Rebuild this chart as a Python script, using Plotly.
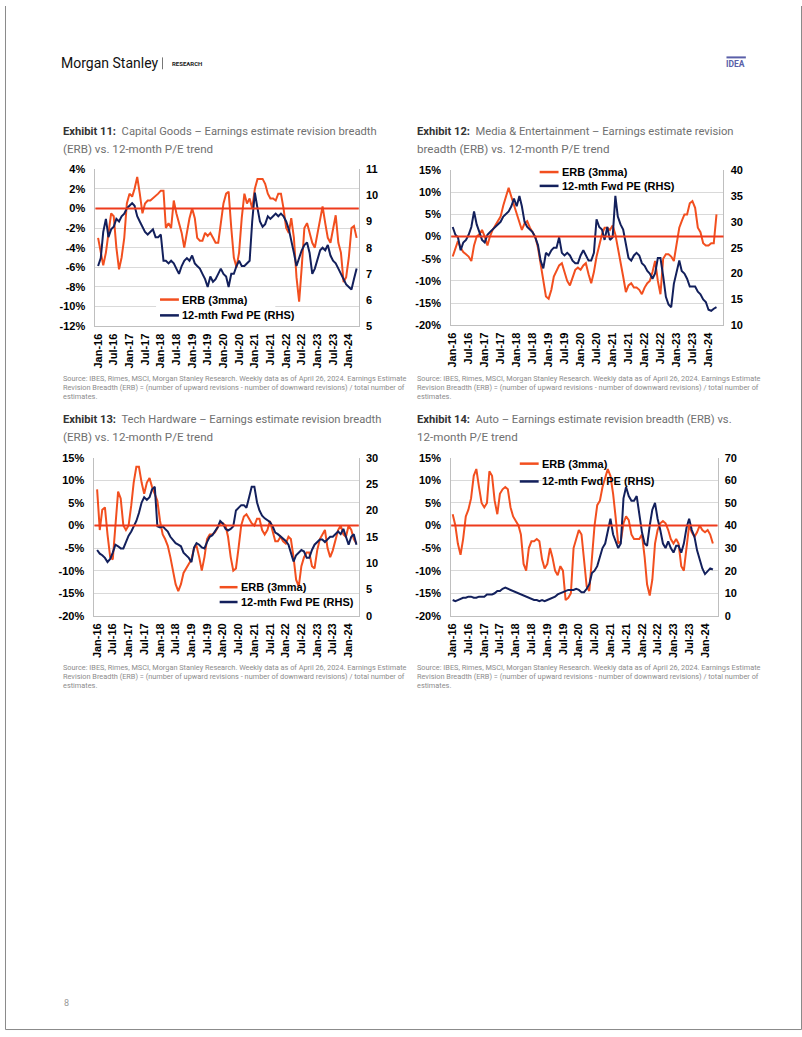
import pandas as pd
import plotly.graph_objects as go

# ---------------- data (monthly readings, Jan-16 .. Apr-24) ----------------
start_month = "2016-01-01"
n_months = 100

erb_capgoods = [-3.0, -4.5, -5.8, -4.5, -2.5, -0.5, -0.8, -4.0, -6.2, -5.0,
                -3.0, 0.5, 1.5, 1.2, 2.0, 3.2, 1.5, -0.5, 0.5, 0.8,
                0.8, 1.0, 1.3, 1.5, 1.8, 1.8, -2.0, -1.5, -2.0, 0.8,
                -0.5, -1.5, -2.5, -4.0, -2.5, -1.0, 0.0, -1.0, -3.0, -3.3,
                -3.3, -2.5, -2.8, -2.5, -3.0, -3.5, -3.5, -1.5, 0.5, 1.5,
                1.7, -2.0, -5.0, -6.0, -4.5, -1.0, 1.5, 0.5, 1.0, 0.0,
                2.0, 3.0, 3.0, 3.0, 2.5, 1.5, 1.0, 1.0, 0.8, 1.5,
                1.5, 0.0, -2.0, -2.5, -1.0, -3.0, -7.0, -9.5, -6.0, -2.0,
                -1.5, -2.5, -3.5, -4.0, -2.5, -1.0, 0.2, -1.5, -3.0, -3.5,
                -2.0, -0.7, -3.5, -4.5, -7.5, -7.0, -5.0, -2.0, -1.8, -3.0]
pe_capgoods = [7.3, 7.6, 8.6, 9.1, 8.4, 8.7, 8.8, 9.1, 9.0, 9.2,
               9.3, 9.5, 9.6, 9.7, 9.6, 9.2, 9.0, 8.8, 8.6, 8.5,
               8.6, 8.7, 8.4, 8.4, 8.5, 7.5, 7.5, 7.4, 7.5, 7.4,
               7.2, 7.0, 7.3, 7.5, 7.6, 7.5, 7.7, 7.4, 7.3, 7.2,
               7.0, 6.8, 6.5, 6.9, 6.7, 6.8, 7.0, 7.2, 7.0, 6.9,
               6.5, 7.0, 7.0, 7.3, 7.5, 7.3, 7.3, 7.4, 7.5, 9.0,
               10.1, 9.5, 9.0, 8.8, 8.9, 9.2, 9.1, 9.2, 9.3, 9.2,
               9.3, 9.2, 9.0, 8.7, 8.3, 7.8, 7.3, 7.6, 7.9, 8.1,
               8.2, 7.8, 7.0, 7.2, 7.6, 7.9, 8.0, 7.9, 8.1, 7.7,
               7.5, 7.4, 7.2, 7.0, 6.8, 6.6, 6.5, 6.4, 6.8, 7.2]

erb_media = [-4.5, -2.5, -1.0, -2.5, -3.5, -4.0, -4.5, -5.5, -2.0, 0.0,
             0.5, 1.5, 0.0, -2.0, 0.0, 1.5, 2.5, 3.5, 4.5, 7.0,
             9.0, 11.0, 9.0, 7.0, 5.0, 3.0, 1.5, 3.0, 3.5, 2.0,
             1.0, 0.0, -2.5, -6.0, -10.0, -13.5, -14.0, -12.0, -9.0, -7.5,
             -6.5, -6.0, -8.0, -10.0, -11.0, -9.0, -7.5, -7.0, -7.5, -6.5,
             -6.0, -8.5, -10.5, -8.0, -4.5, -2.0, 0.5, 2.0, 2.0, 1.5,
             2.5, 0.5, -2.5, -5.0, -9.0, -12.5, -11.0, -10.5, -11.5, -11.5,
             -12.0, -13.0, -11.5, -10.5, -10.0, -8.0, -5.5, -10.0, -13.0, -5.0,
             -4.0, -4.0, -4.5, -5.5, -2.0, 2.0, 3.5, 5.0, 5.0, 7.5,
             8.0, 6.5, 2.0, 1.0, -1.5, -2.0, -2.0, -1.5, -1.5, 5.0]
pe_media = [29, 27.5, 27, 24.5, 26, 26.5, 27.5, 29, 32, 29.5,
            28, 26.5, 26, 27.5, 28, 28.5, 29, 29.5, 30, 31,
            31.5, 32, 33, 34.5, 33, 35, 33, 30, 29, 28.5,
            28, 27, 25.5, 22.5, 21, 24, 23.5, 24.5, 25, 25,
            27, 24, 23.5, 24, 23.5, 22.5, 22, 22, 23.5, 24.5,
            23.5, 22.5, 22.5, 24, 30.5, 29, 28.5, 26.5, 29, 26.5,
            27, 35, 31, 29.5, 28.5, 26, 23, 22.5, 23.5, 24,
            23.5, 22, 21.5, 20.5, 20, 19, 20, 23, 23, 19.5,
            15.5, 14, 13.5, 18, 20.5, 22.5, 20.5, 20, 19, 17.5,
            17.5, 17.5, 16.5, 16, 15, 14.5, 13, 12.8, 13.2, 13.5]

erb_tech = [8.0, -1.0, 3.5, 4.0, -2.0, -7.0, -7.5, 1.0, 7.5, 6.0,
            0.0, -1.0, 0.0, 4.5, 9.5, 13.0, 13.0, 9.5, 7.0, 9.5,
            10.5, 8.5, 7.0, 5.5, 1.0, -2.0, -3.0, -4.5, -7.0, -10.0,
            -13.0, -14.5, -13.0, -10.5, -9.5, -8.5, -7.5, -5.0, -4.5, -7.0,
            -10.0, -7.0, -3.0, -2.0, -2.0, -1.5, -0.5, 0.5, 0.5, 0.0,
            -2.5, -7.0, -10.0, -9.5, -5.0, 0.0, 2.0, 2.5, 1.5, 0.5,
            0.0, 1.5, 1.5, -1.0, -2.0, -1.0, 1.0, -1.5, -3.5, -3.5,
            -2.5, -3.5, -4.0, -2.5, -3.0, -7.0, -12.0, -13.5, -9.0, -7.0,
            -6.0, -6.0, -9.0, -9.5, -5.5, -3.0, -2.0, -1.0, -5.0, -7.0,
            -5.5, -3.0, -1.0, 0.0, -2.0, -2.5, 0.0, -1.0, -3.0, -4.0]
pe_tech = [12.5, 11.8, 11.5, 11.0, 10.2, 10.8, 12.0, 13.5, 13.2, 12.8,
           12.8, 14.0, 15.2, 16.0, 17.0, 18.0, 19.5, 21.5, 22.5, 22.0,
           22.5, 24.0, 24.5, 17.0, 16.8, 17.0, 16.5, 16.0, 15.0, 14.3,
           13.8, 13.5, 13.2, 12.0, 11.5, 11.0, 10.2, 13.0, 13.8, 13.5,
           13.0, 12.8, 14.0, 15.0, 15.3, 16.0, 16.8, 18.0, 17.5, 16.5,
           16.2, 16.5, 17.0, 20.0, 20.5, 21.0, 21.0, 20.5, 22.5, 24.5,
           24.5, 21.5, 20.0, 19.0, 18.5, 18.2, 17.8, 17.0, 15.8, 15.5,
           15.0, 14.5, 14.2, 13.5, 12.0, 10.3, 11.5, 12.0, 12.5, 12.2,
           11.0, 11.0, 12.5, 13.5, 14.0, 14.5, 14.5, 14.0, 14.5, 15.0,
           15.0, 15.5, 16.0, 15.5, 16.5, 15.0, 13.5, 15.0, 15.5, 13.5]

erb_auto = [2.5, 0.0, -4.0, -6.5, -3.0, 2.0, 3.5, 6.0, 11.0, 12.5,
            8.5, 5.0, 4.0, 5.0, 12.0, 11.0, 5.5, 2.5, 7.0, 8.0,
            8.5, 8.0, 4.0, 2.0, 1.0, 0.0, -2.0, -8.5, -10.0, -5.0,
            -3.5, -3.5, -3.0, -3.5, -7.5, -9.5, -8.5, -5.0, -7.0, -10.0,
            -11.0, -9.0, -10.0, -16.5, -16.0, -15.0, -5.0, -3.0, -1.0, -2.0,
            -8.0, -13.5, -14.5, -8.0, 0.0, 4.5, 5.5, 8.5, 10.5, 12.5,
            11.0, 7.0, 2.0, -4.0, -3.5, 0.5, 2.0, 1.2, -2.0, -3.0,
            -3.0, -3.0, -2.0, -7.0, -13.0, -15.5, -12.0, -4.0, -1.0, 0.5,
            1.0, 0.5, -1.0, -3.0, -4.0, -3.0, -4.0, -9.0, -10.0, -5.0,
            0.0, -1.5, -2.5, -1.5, 0.0, -1.0, -1.5, -1.0, -2.0, -4.0]
pe_auto = [7.0, 6.5, 7.0, 7.5, 8.0, 8.0, 8.5, 8.5, 8.0, 8.0,
           8.5, 8.5, 8.5, 9.5, 9.5, 9.5, 10.0, 11.0, 11.0, 12.0,
           12.5, 12.0, 11.8, 11.0, 10.5, 10.0, 9.5, 9.0, 8.5, 8.0,
           7.5, 7.0, 7.0, 6.5, 7.0, 6.5, 7.0, 7.5, 8.0, 8.5,
           9.5, 10.0, 10.5, 11.0, 11.5, 11.5, 11.5, 12.0, 11.5, 10.5,
           10.5, 12.0, 14.0, 19.0, 20.0, 22.0, 26.0, 30.0, 32.0, 38.0,
           43.0, 36.0, 33.0, 30.0, 32.0, 52.0, 57.0, 53.0, 51.0, 51.0,
           53.0, 44.0, 37.0, 32.0, 31.0, 40.0, 47.0, 50.0, 43.0, 38.0,
           32.0, 30.0, 33.0, 30.0, 28.0, 31.0, 31.0, 28.0, 32.0, 39.0,
           43.0, 38.0, 35.0, 29.0, 25.0, 21.0, 18.5, 20.0, 21.0, 20.5]

x_tick_labels = ["Jan-16", "Jul-16", "Jan-17", "Jul-17", "Jan-18", "Jul-18",
                 "Jan-19", "Jul-19", "Jan-20", "Jul-20", "Jan-21", "Jul-21",
                 "Jan-22", "Jul-22", "Jan-23", "Jul-23", "Jan-24"]

left_ticks_capgoods = [-12, -10, -8, -6, -4, -2, 0, 2, 4]
right_ticks_capgoods = [5, 6, 7, 8, 9, 10, 11]
left_ticks_std = [-20, -15, -10, -5, 0, 5, 10, 15]
right_ticks_media = [10, 15, 20, 25, 30, 35, 40]
right_ticks_tech = [0, 5, 10, 15, 20, 25, 30]
right_ticks_auto = [0, 10, 20, 30, 40, 50, 60, 70]

titles = [
    ("Exhibit 11:", "Capital Goods \u2013 Earnings estimate revision breadth", "(ERB) vs. 12-month P/E trend"),
    ("Exhibit 12:", "Media & Entertainment \u2013 Earnings estimate revision", "breadth (ERB) vs. 12-month P/E trend"),
    ("Exhibit 13:", "Tech Hardware \u2013 Earnings estimate revision breadth", "(ERB) vs. 12-month P/E trend"),
    ("Exhibit 14:", "Auto \u2013 Earnings estimate revision breadth (ERB) vs.", "12-month P/E trend"),
]
source_lines = [
    "Source: IBES, Rimes, MSCI, Morgan Stanley Research. Weekly data as of April 26, 2024. Earnings Estimate",
    "Revision Breadth (ERB) = (number of upward revisions - number of downward revisions) / total number of",
    "estimates.",
]
erb_name = "ERB (3mma)"
pe_name = "12-mth Fwd PE (RHS)"

# ---------------- styling ----------------
W, H = 802, 1037
ORANGE = "#F24F1F"
NAVY = "#13205C"
ZERO = "#EE3B1C"
GRID = "#D9D9D9"
AXLINE = "#BFBFBF"
TICKFONT = dict(family="Liberation Sans, Arial, sans-serif", size=11, color="#000000", weight="bold")
TITLEFONT = "Roboto, sans-serif"


def px(x):
    return x / W


def py(y):
    return 1 - y / H


dates = pd.date_range(start_month, periods=n_months, freq="MS")
tick_dates = [pd.to_datetime(t, format="%b-%y") for t in x_tick_labels]

panels = [
    dict(box=(91, 356, 165, 324), xr=["2015-12-01", "2024-04-26"],
         lt=left_ticks_capgoods, rt=right_ticks_capgoods,
         erb=erb_capgoods, pe=pe_capgoods,
         leg=(156, 175, 297, 313), legbox=(152, 272, 289, 321),
         title_xy=(56, 127, 145), src_xy=(56, 377)),
    dict(box=(449, 723, 166, 323), xr=["2015-12-15", "2024-06-20"],
         lt=left_ticks_std, rt=right_ticks_media,
         erb=erb_media, pe=pe_media,
         leg=(538, 557, 168, 182), legbox=None,
         title_xy=(413, 127, 145), src_xy=(413, 377)),
    dict(box=(90, 356, 457, 617), xr=["2015-12-01", "2024-04-28"],
         lt=left_ticks_std, rt=right_ticks_tech,
         erb=erb_tech, pe=pe_tech,
         leg=(216, 234, 588, 603), legbox=None,
         title_xy=(56, 418, 436), src_xy=(56, 669)),
    dict(box=(449, 717, 457, 617), xr=["2015-12-15", "2024-05-25"],
         lt=left_ticks_std, rt=right_ticks_auto,
         erb=erb_auto, pe=pe_auto,
         leg=(518, 537, 463, 481), legbox=None,
         title_xy=(413, 418, 436), src_xy=(413, 669)),
]

fig = go.Figure()
layout = dict(width=W, height=H, margin=dict(l=0, r=0, t=0, b=0),
              paper_bgcolor="white", plot_bgcolor="white", showlegend=False)
shapes = []
annotations = []

for i, p in enumerate(panels, start=1):
    xa = "x" if i == 1 else f"x{i}"
    xkey = "xaxis" if i == 1 else f"xaxis{i}"
    ln = 2 * i - 1
    rn = 2 * i
    ly = "y" if ln == 1 else f"y{ln}"
    ry = f"y{rn}"
    lkey = "yaxis" if ln == 1 else f"yaxis{ln}"
    rkey = f"yaxis{rn}"
    x0, x1, y0, y1 = p["box"]

    layout[xkey] = dict(domain=[px(x0), px(x1)], anchor=ly, type="date", range=p["xr"],
                        tickmode="array", tickvals=tick_dates, ticktext=x_tick_labels,
                        tickangle=-90, tickfont=TICKFONT, showgrid=False,
                        showline=True, linecolor=AXLINE, linewidth=1, zeroline=False,
                        ticks="", ticklabelstandoff=2)
    layout[lkey] = dict(domain=[py(y1), py(y0)], anchor=xa, range=[p["lt"][0], p["lt"][-1]],
                        tickmode="array", tickvals=p["lt"], ticktext=[f"{v}%" for v in p["lt"]],
                        tickfont=TICKFONT, showgrid=True, gridcolor=GRID, gridwidth=1,
                        showline=True, linecolor=AXLINE, linewidth=1, zeroline=False,
                        ticks="", ticklabelstandoff=7)
    layout[rkey] = dict(overlaying=ly, side="right", anchor=xa, range=[p["rt"][0], p["rt"][-1]],
                        tickmode="array", tickvals=p["rt"], ticktext=[str(v) for v in p["rt"]],
                        tickfont=TICKFONT, showgrid=False,
                        showline=True, linecolor=AXLINE, linewidth=1, zeroline=False,
                        ticks="", ticklabelstandoff=4)

    fig.add_trace(go.Scatter(x=dates, y=p["erb"], mode="lines", name=erb_name,
                             line=dict(color=ORANGE, width=2), xaxis=xa, yaxis=ly))
    fig.add_trace(go.Scatter(x=dates, y=p["pe"], mode="lines", name=pe_name,
                             line=dict(color=NAVY, width=2), xaxis=xa, yaxis=ry))

    # zero line on the ERB axis
    shapes.append(dict(type="line", xref=f"{xa} domain", yref=ly, x0=0, x1=1, y0=0, y1=0,
                       line=dict(color=ZERO, width=2), layer="above"))

    # legend background box (hides gridlines under the legend)
    if p["legbox"] is not None:
        bx0, bx1, by0, by1 = p["legbox"]
        shapes.append(dict(type="rect", xref="paper", yref="paper",
                           x0=px(bx0), x1=px(bx1), y0=py(by1), y1=py(by0),
                           fillcolor="white", line=dict(width=0), layer="above"))

    # legend (custom, positioned like the original)
    lx0, lx1, lg0, lg1 = p["leg"]
    for yy, col, name in ((lg0, ORANGE, erb_name), (lg1, NAVY, pe_name)):
        shapes.append(dict(type="line", xref="paper", yref="paper",
                           x0=px(lx0), x1=px(lx1), y0=py(yy), y1=py(yy),
                           line=dict(color=col, width=2.5), layer="above"))
        annotations.append(dict(xref="paper", yref="paper", x=px(lx1 + 1), y=py(yy),
                                xanchor="left", yanchor="middle", showarrow=False,
                                text=name, font=TICKFONT))

    # title
    tx, ty1, ty2 = p["title_xy"]
    bold, rest, line2 = titles[i - 1]
    annotations.append(dict(xref="paper", yref="paper", x=px(tx), y=py(ty1),
                            xanchor="left", yanchor="middle", showarrow=False,
                            text=f"<b>{bold}</b>  <span style='color:#707070'>{rest}</span>",
                            font=dict(family=TITLEFONT, size=11.2, color="#333333")))
    annotations.append(dict(xref="paper", yref="paper", x=px(tx), y=py(ty2),
                            xanchor="left", yanchor="middle", showarrow=False,
                            text=line2,
                            font=dict(family=TITLEFONT, size=11.6, color="#707070")))
    # source
    sx, sy = p["src_xy"]
    for k, line in enumerate(source_lines):
        annotations.append(dict(xref="paper", yref="paper", x=px(sx), y=py(sy + 9 * k),
                                xanchor="left", yanchor="middle", showarrow=False,
                                text=line,
                                font=dict(family=TITLEFONT, size=7.35, color="#8C8C8C")))

# page header / footer
annotations.append(dict(xref="paper", yref="paper", x=px(54), y=py(58), xanchor="left",
                        yanchor="middle", showarrow=False, text="Morgan Stanley",
                        font=dict(family=TITLEFONT, size=14, color="#111111")))
annotations.append(dict(xref="paper", yref="paper", x=px(166), y=py(58), xanchor="left",
                        yanchor="middle", showarrow=False, text="RESEARCH",
                        font=dict(family=TITLEFONT, size=6, color="#222222", weight="bold")))
shapes.append(dict(type="line", xref="paper", yref="paper", x0=px(158.5), x1=px(158.5),
                   y0=py(52), y1=py(64), line=dict(color="#777777", width=1)))
annotations.append(dict(xref="paper", yref="paper", x=px(735.5), y=py(58.5), xanchor="center",
                        yanchor="middle", showarrow=False, text="IDEA",
                        font=dict(family=TITLEFONT, size=8.5, color="#5A5FA8", weight="bold")))
shapes.append(dict(type="line", xref="paper", yref="paper", x0=px(726), x1=px(745.5),
                   y0=py(52), y1=py(52), line=dict(color="#5A5FA8", width=2)))
annotations.append(dict(xref="paper", yref="paper", x=px(57), y=py(1009), xanchor="left",
                        yanchor="middle", showarrow=False, text="8",
                        font=dict(family=TITLEFONT, size=9, color="#999999")))
# page border
shapes.append(dict(type="line", xref="paper", yref="paper", x0=px(0.5), x1=px(0.5), y0=py(1035.5), y1=1,
                   line=dict(color="#8A8A8A", width=1)))
shapes.append(dict(type="line", xref="paper", yref="paper", x0=px(801.5), x1=px(801.5), y0=py(1035.5), y1=1,
                   line=dict(color="#8A8A8A", width=1)))
shapes.append(dict(type="line", xref="paper", yref="paper", x0=px(0.5), x1=px(801.5),
                   y0=py(1035.5), y1=py(1035.5), line=dict(color="#8A8A8A", width=1)))

layout["shapes"] = shapes
layout["annotations"] = annotations
fig.update_layout(**layout)
fig.write_html("out.html", config={"displayModeBar": False, "staticPlot": True},
               post_script="document.body.style.margin='0px';"
                           "document.documentElement.style.overflow='hidden';")
